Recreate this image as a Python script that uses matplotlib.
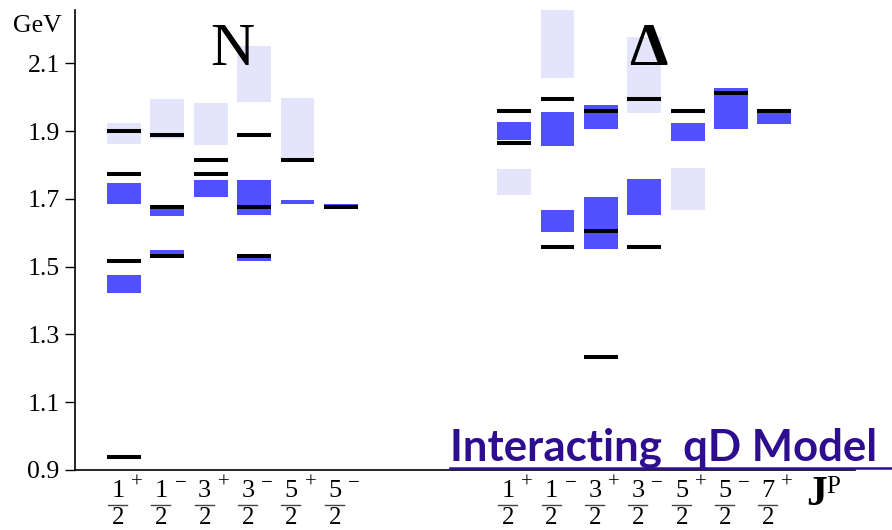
import matplotlib
matplotlib.use("Agg")
import matplotlib.pyplot as plt
from matplotlib.patches import Rectangle
from matplotlib.lines import Line2D
from matplotlib.transforms import blended_transform_factory

# ---- spin-parity columns ----
n_numer = ["1", "1", "3", "3", "5", "5"]
n_parity = ["+", "−", "+", "−", "+", "−"]
d_numer = ["1", "1", "3", "3", "5", "5", "7"]
d_parity = ["+", "−", "+", "−", "+", "−", "+"]

# ---- nucleon sector (column index, low, high) in GeV ----
n_established = [(0, 1.684, 1.746), (0, 1.421, 1.475),
                 (1, 1.648, 1.676), (1, 1.529, 1.549),
                 (2, 1.704, 1.756),
                 (3, 1.653, 1.756), (3, 1.517, 1.529),
                 (4, 1.684, 1.696),
                 (5, 1.670, 1.686)]
n_tentative = [(0, 1.861, 1.923), (1, 1.876, 1.994), (2, 1.860, 1.983),
               (3, 1.986, 2.151), (4, 1.819, 1.997)]
n_model = [(0, 1.899), (0, 1.773), (0, 1.517), (0, 0.939),
           (1, 1.888), (1, 1.676), (1, 1.532),
           (2, 1.814), (2, 1.773),
           (3, 1.888), (3, 1.676), (3, 1.531),
           (4, 1.814),
           (5, 1.676)]

# ---- Delta sector ----
d_established = [(0, 1.873, 1.927),
                 (1, 1.855, 1.957), (1, 1.603, 1.666),
                 (2, 1.906, 1.978), (2, 1.553, 1.706),
                 (3, 1.653, 1.758),
                 (4, 1.871, 1.923),
                 (5, 1.906, 2.028),
                 (6, 1.920, 1.964)]
d_tentative = [(0, 1.712, 1.787), (1, 2.056, 2.259), (3, 1.952, 2.176),
               (4, 1.666, 1.791)]
d_model = [(0, 1.959), (0, 1.864),
           (1, 1.994), (1, 1.558),
           (2, 1.959), (2, 1.606), (2, 1.234),
           (3, 1.994), (3, 1.558),
           (4, 1.959),
           (5, 2.012),
           (6, 1.959)]

y_ticks = [0.9, 1.1, 1.3, 1.5, 1.7, 1.9, 2.1]

DELTA_OFFSET = 9.0
HALF = 0.39
BLUE = "#5050ff"
LIGHT = "#e4e4fb"
PURPLE = "#2e0d8e"
SERIF = ["Liberation Serif", "DejaVu Serif"]

W, H = 892, 530
fig = plt.figure(figsize=(W / 100, H / 100), dpi=100)
ax = fig.add_axes([75 / W, (H - 470) / H, (855 - 75) / W, (470 - 10) / H])
ax.set_xlim(-1.13, 16.86)
ax.set_ylim(0.9, 2.257)


def draw_sector(offset, est, tent, model):
    for c, lo, hi in tent:
        ax.add_patch(Rectangle((offset + c - HALF, lo), 2 * HALF, hi - lo,
                               facecolor=LIGHT, edgecolor="none", zorder=1))
    for c, lo, hi in est:
        ax.add_patch(Rectangle((offset + c - HALF, lo), 2 * HALF, hi - lo,
                               facecolor=BLUE, edgecolor="none", zorder=2))
    for c, m in model:
        ax.hlines(m, offset + c - HALF, offset + c + HALF, colors="black",
                  linewidth=2.9, capstyle="butt", zorder=3)


draw_sector(0.0, n_established, n_tentative, n_model)
draw_sector(DELTA_OFFSET, d_established, d_tentative, d_model)

# axes styling
for s in ("top", "right"):
    ax.spines[s].set_visible(False)
ax.spines["left"].set_linewidth(1.2)
ax.spines["bottom"].set_linewidth(1.2)
ax.set_xticks([])
ax.set_yticks(y_ticks)
ax.set_yticklabels([f"{t:.1f}" for t in y_ticks], family=SERIF, fontsize=18.5)
ax.tick_params(axis="y", length=7, width=1.0, pad=4)

fig.text(13 / W, (H - 32) / H, "GeV", family=SERIF, fontsize=18.5,
         ha="left", va="baseline")

# sector titles
fig.text(232 / W, (H - 65) / H, "N", family=SERIF, fontsize=44,
         ha="center", va="baseline")
fig.text(648 / W, (H - 65) / H, "Δ", family=SERIF, fontsize=44,
         fontweight="bold", ha="center", va="baseline")

# J^P labels under each column
px = 43.35
tr = blended_transform_factory(ax.transData, fig.transFigure)


def jp_labels(offset, numer, parity):
    for i, (nm, p) in enumerate(zip(numer, parity)):
        xc = offset + i - 6 / px
        ax.text(xc, (H - 497) / H, nm, transform=tr, family=SERIF,
                fontsize=19, ha="center", va="baseline", clip_on=False)
        ax.text(xc, (H - 524) / H, "2", transform=tr, family=SERIF,
                fontsize=18, ha="center", va="baseline", clip_on=False)
        ax.add_line(Line2D([xc - 10 / px, xc + 9 / px],
                           [(H - 505) / H] * 2, transform=tr,
                           color="#444444", linewidth=1.0, clip_on=False))
        ax.text(offset + i + 13 / px, (H - 483) / H, p, transform=tr,
                family=SERIF, fontsize=15, ha="center", va="center",
                clip_on=False)


jp_labels(0.0, n_numer, n_parity)
jp_labels(DELTA_OFFSET, d_numer, d_parity)

fig.text(806 / W, (H - 505) / H, "J", family=SERIF, fontsize=30,
         fontweight="bold", ha="left", va="baseline")
fig.text(826 / W, (H - 493) / H, "P", family=SERIF, fontsize=18,
         ha="left", va="baseline")

# model caption
fig.text(450 / W, (H - 460) / H, "Interacting  qD Model", family=["Lato", "DejaVu Sans"],
         fontsize=31.5, fontweight="bold", color=PURPLE, ha="left", va="baseline")
fig.add_artist(Line2D([450 / W, 1.0], [(H - 467.5) / H] * 2,
                      transform=fig.transFigure, color=PURPLE, linewidth=1.8))

fig.savefig("out.png", dpi=100)
